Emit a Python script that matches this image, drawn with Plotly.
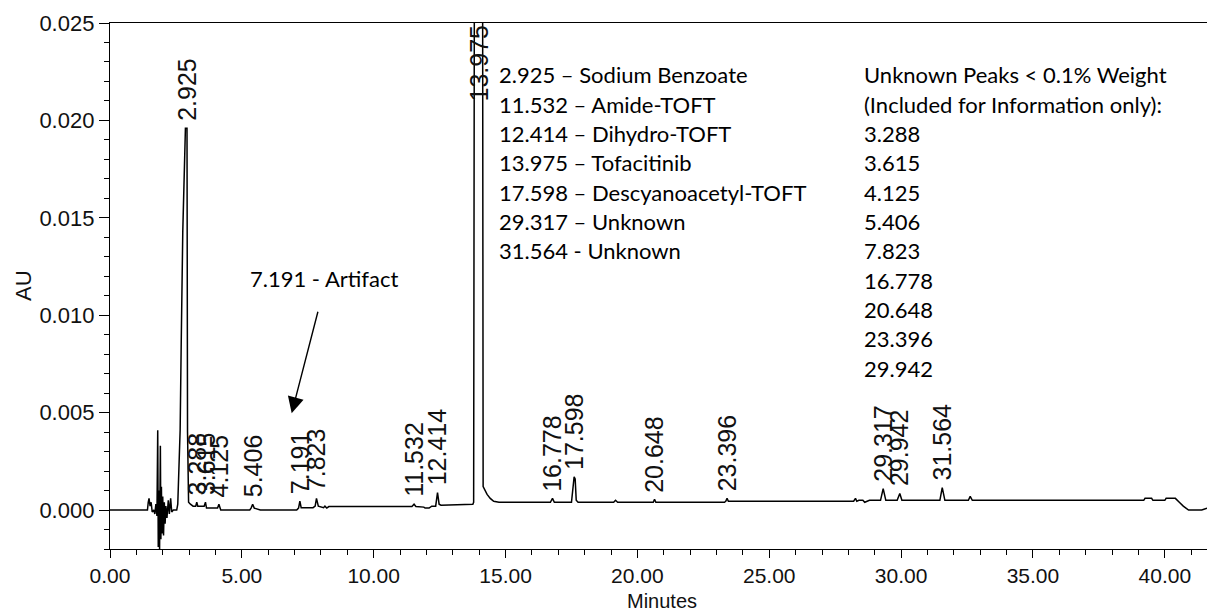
import plotly.graph_objects as go

# ---------------- data ----------------
time_min = [
    0.00, 1.42, 1.45, 1.48, 1.52, 1.56, 1.60, 1.66, 1.70, 1.74, 1.78,
    1.81, 1.83, 1.85, 1.88, 1.91, 1.93, 1.95, 1.97, 2.00, 2.03, 2.06,
    2.09, 2.12, 2.16, 2.21, 2.25, 2.30, 2.34, 2.40, 2.46, 2.53, 2.57,
    2.59, 2.63, 2.66, 2.70, 2.76, 2.86, 2.92, 2.94, 2.96, 2.98, 3.05,
    3.15, 3.25, 3.29, 3.33, 3.45, 3.57, 3.62, 3.66, 3.90, 4.08, 4.13,
    4.20, 4.35, 5.30, 5.35, 5.41, 5.47, 5.70, 7.08, 7.15, 7.20, 7.25,
    7.70, 7.78, 7.83, 7.90, 8.10, 8.15, 8.22, 8.30, 11.45, 11.53, 11.60,
    11.90, 11.95, 12.10, 12.20, 12.35, 12.42, 12.48, 12.55, 13.70, 13.76,
    13.79, 13.83, 13.975, 14.12, 14.15, 14.22, 14.30, 14.42, 14.55, 14.75,
    16.70, 16.78, 16.85, 17.50, 17.55, 17.60, 17.64, 17.68, 17.75, 19.10,
    19.17, 19.25, 20.60, 20.65, 20.70, 23.30, 23.35, 23.40, 23.45, 28.20,
    28.27, 28.32, 28.40, 28.55, 28.62, 28.80, 28.88, 29.22, 29.32, 29.42,
    29.85, 29.95, 30.03, 31.47, 31.56, 31.66, 32.55, 32.62, 32.70, 39.20,
    39.25, 39.50, 39.55, 40.00, 40.05, 40.40, 40.55, 40.70, 40.90, 41.40,
    41.60,
]
absorbance_au = [
    0.0000, 0.0000, 0.0004, 0.0006, 0.0002, 0.0004, -0.0001, 0.0000, -0.0002, 0.0003, -0.0003,
    0.0041, -0.0019, 0.0010, -0.0020, 0.0033, -0.0015, 0.0012, -0.0012, 0.0007, -0.0013, 0.0004,
    -0.0007, 0.0002, -0.0004, 0.0005, -0.0002, 0.0006, -0.0001, 0.0000, 0.0000, 0.0000, 0.0003,
    0.0014, 0.0036, 0.0041, 0.0085, 0.0143, 0.0196, 0.0196, 0.0040, 0.0012, 0.0004, 0.0003,
    0.0002, 0.0002, 0.0004, 0.0002, 0.0002, 0.0002, 0.0004, 0.0001, 0.0001, 0.0001, 0.0003,
    0.0000, 0.0000, 0.0000, 0.0001, 0.0003, 0.0001, 0.0000, 0.0000, 0.0001, 0.00046, 0.00012,
    0.00012, 0.0002, 0.0006, 0.0002, 0.00012, 0.0002, 0.0001, 0.00018, 0.00018, 0.0003, 0.00018,
    0.00015, 0.0001, 0.0001, 0.0002, 0.0002, 0.0009, 0.0003, 0.00025, 0.0003, 0.0003,
    0.0004, 0.0400, 0.0600, 0.0400, 0.0012, 0.0010, 0.0008, 0.0006, 0.00045, 0.0004,
    0.0004, 0.0006, 0.0004, 0.0004, 0.0010, 0.0017, 0.0016, 0.0005, 0.0004, 0.0004,
    0.0005, 0.0004, 0.0004, 0.00055, 0.0004, 0.0004, 0.00045, 0.0006, 0.00045, 0.00045,
    0.0006, 0.00045, 0.0005, 0.0005, 0.0004, 0.0005, 0.0005, 0.0005, 0.0011, 0.0005,
    0.0005, 0.00085, 0.0005, 0.0005, 0.00115, 0.0005, 0.0005, 0.0007, 0.0005, 0.0005,
    0.0006, 0.0006, 0.0005, 0.0005, 0.0006, 0.0006, 0.0004, 0.0002, 0.0000, 0.0000,
    0.0001,
]

peak_times = [2.925, 3.288, 3.615, 4.125, 5.406, 7.191, 7.823, 11.532, 12.414,
              13.975, 16.778, 17.598, 20.648, 23.396, 29.317, 29.942, 31.564]
peak_labels = ["2.925", "3.288", "3.615", "4.125", "5.406", "7.191", "7.823",
               "11.532", "12.414", "13.975", "16.778", "17.598", "20.648",
               "23.396", "29.317", "29.942", "31.564"]
offscale_peak = "13.975"

compound_lines = [
    "2.925 – Sodium Benzoate",
    "11.532 – Amide-TOFT",
    "12.414 – Dihydro-TOFT",
    "13.975 – Tofacitinib",
    "17.598 – Descyanoacetyl-TOFT",
    "29.317 – Unknown",
    "31.564 - Unknown",
]
unknown_lines = [
    "Unknown Peaks < 0.1% Weight",
    "(Included for Information only):",
    "3.288", "3.615", "4.125", "5.406", "7.823",
    "16.778", "20.648", "23.396", "29.942",
]
artifact_text = "7.191 - Artifact"
artifact_tip = (6.89, 0.00497)

x_title = "Minutes"
y_title = "AU"
x_range = [0, 41.6]
y_range = [-0.002, 0.025]

# ---------------- layout geometry ----------------
W, H = 1207, 613
ML, MR, MT, MB = 110, 0, 23, 64
plot_h = H - MT - MB
plot_w = W - ML - MR


def py(ypix):
    return (H - MB - ypix) / plot_h


def px(xpix):
    return (xpix - ML) / plot_w


AX_FONT = "Liberation Sans, Arial, sans-serif"
TXT_FONT = "Lato, Carlito, Calibri, sans-serif"
INK = "#111"

fig = go.Figure()
fig.add_trace(go.Scatter(x=time_min, y=absorbance_au, mode="lines",
                         line=dict(color="black", width=1.5),
                         hoverinfo="skip", showlegend=False))


def apex(t):
    return max(a for tt, a in zip(time_min, absorbance_au) if abs(tt - t) <= 0.1)


annotations = []
for t, lab in zip(peak_times, peak_labels):
    if lab == offscale_peak:
        annotations.append(dict(x=t, y=y_range[1], xref="x", yref="y", text=lab,
                                textangle=-90, showarrow=False, xanchor="center",
                                yanchor="top", yshift=-1,
                                font=dict(family=AX_FONT, size=25, color=INK)))
    else:
        annotations.append(dict(x=t, y=apex(t), xref="x", yref="y", text=lab,
                                textangle=-90, showarrow=False, xanchor="center",
                                yanchor="bottom", yshift=5,
                                font=dict(family=AX_FONT, size=25, color=INK)))

LINE_STEP = 29.3
for i, s in enumerate(compound_lines):
    annotations.append(dict(x=px(497), y=py(75 + i * LINE_STEP), xref="paper", yref="paper",
                            text=s, showarrow=False, xanchor="left", yanchor="middle",
                            font=dict(family=TXT_FONT, size=22, color="black")))
for i, s in enumerate(unknown_lines):
    annotations.append(dict(x=px(862), y=py(75 + i * LINE_STEP), xref="paper", yref="paper",
                            text=s, showarrow=False, xanchor="left", yanchor="middle",
                            font=dict(family=TXT_FONT, size=22, color="black")))

annotations.append(dict(x=px(324), y=py(278), xref="paper", yref="paper",
                        text=artifact_text, showarrow=False, xanchor="center",
                        yanchor="middle",
                        font=dict(family=TXT_FONT, size=22, color="black")))
annotations.append(dict(x=artifact_tip[0], y=artifact_tip[1], xref="x", yref="y",
                        text="", showarrow=True, ax=26.6, ay=-103,
                        arrowhead=2, arrowsize=2.3, arrowwidth=1.4,
                        arrowcolor="black"))

# axis titles placed precisely
annotations.append(dict(x=px(662), y=py(613), xref="paper", yref="paper",
                        text=x_title, showarrow=False, xanchor="center",
                        yanchor="bottom", borderpad=0,
                        font=dict(family=AX_FONT, size=20, color=INK)))
annotations.append(dict(x=px(23), y=py(286), xref="paper", yref="paper",
                        text=y_title, showarrow=False, xanchor="center",
                        yanchor="middle", textangle=-90,
                        font=dict(family=AX_FONT, size=22, color=INK)))

fig.update_layout(
    width=W, height=H,
    margin=dict(l=ML, r=MR, t=MT, b=MB, pad=0),
    paper_bgcolor="white", plot_bgcolor="white",
    annotations=annotations,
    xaxis=dict(range=x_range, showline=True, linecolor="black", linewidth=1.3,
               mirror=True, ticks="outside", ticklen=8, tickwidth=1.3,
               tickcolor="black", tick0=0, dtick=5, tickformat=".2f",
               minor=dict(dtick=1, ticks="outside", ticklen=5, tickwidth=1.3,
                          tickcolor="black", showgrid=False),
               showgrid=False, zeroline=False,
               tickfont=dict(family=AX_FONT, size=21, color=INK)),
    yaxis=dict(range=y_range, showline=True, linecolor="black", linewidth=1.3,
               ticks="outside", ticklen=10, tickwidth=1.3, tickcolor="black",
               tick0=0, dtick=0.005, tickformat=".3f",
               minor=dict(dtick=0.001, ticks="outside", ticklen=5, tickwidth=1.3,
                          tickcolor="black", showgrid=False),
               showgrid=False, zeroline=False,
               tickfont=dict(family=AX_FONT, size=22, color=INK)),
)

fig.write_html("out.html")
